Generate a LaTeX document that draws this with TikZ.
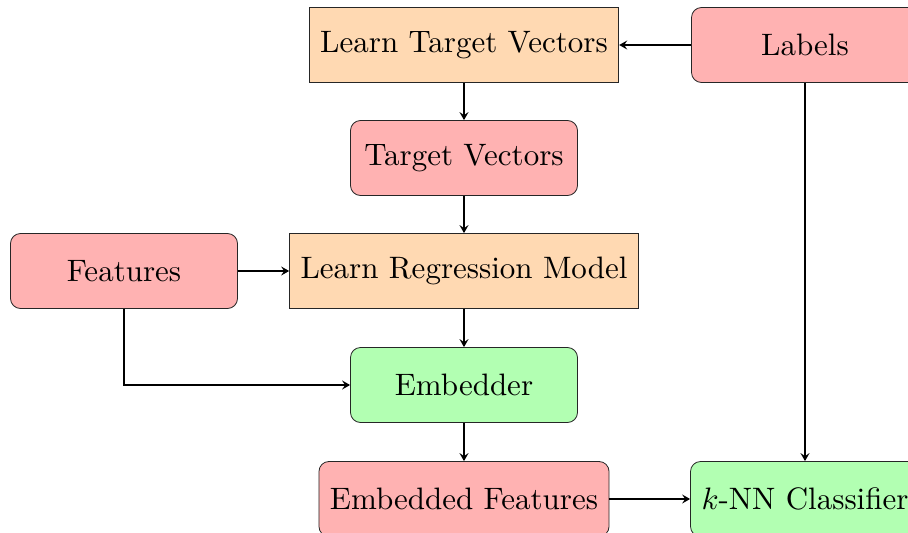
\documentclass[tikz,border=0pt]{standalone}
\usetikzlibrary{arrows.meta,positioning}
\newcommand{\lbl}[1]{\scalebox{3.1}{#1}}
\begin{document}
\begin{tikzpicture}[x=1pt,y=-1pt,
  box/.style={draw=black!85, line width=0.8pt, minimum width=227pt, minimum height=75pt, inner xsep=11pt, inner ysep=4pt},
  learnbox/.style={box, fill=orange!30},
  databox/.style={box, fill=red!30, rounded corners=10pt},
  modelbox/.style={box, fill=green!30, rounded corners=10pt},
  conn/.style={-{Stealth[length=8pt,width=9pt,inset=3pt]}, line width=2pt}
]
\useasboundingbox (0,0) rectangle (908,533);
\node[learnbox] (ltv) at (464,45) {\lbl{Learn Target Vectors}};
\node[databox] (labels) at (805,45) {\lbl{Labels}};
\node[databox] (tv) at (464,158) {\lbl{Target Vectors}};
\node[databox] (feat) at (124,271) {\lbl{Features}};
\node[learnbox] (lrm) at (464,271) {\lbl{Learn Regression Model}};
\node[modelbox] (emb) at (464,385) {\lbl{Embedder}};
\node[databox] (ef) at (464,499) {\lbl{Embedded Features}};
\node[modelbox] (knn) at (805,499) {\lbl{$k$-NN Classifier}};
\draw[conn] (labels) -- (ltv);
\draw[conn] (ltv) -- (tv);
\draw[conn] (tv) -- (lrm);
\draw[conn] (feat) -- (lrm);
\draw[conn] (lrm) -- (emb);
\draw[conn] (feat.south) |- (emb.west);
\draw[conn] (emb) -- (ef);
\draw[conn] (labels) -- (knn);
\draw[conn] (ef) -- (knn);
\end{tikzpicture}
\end{document}
